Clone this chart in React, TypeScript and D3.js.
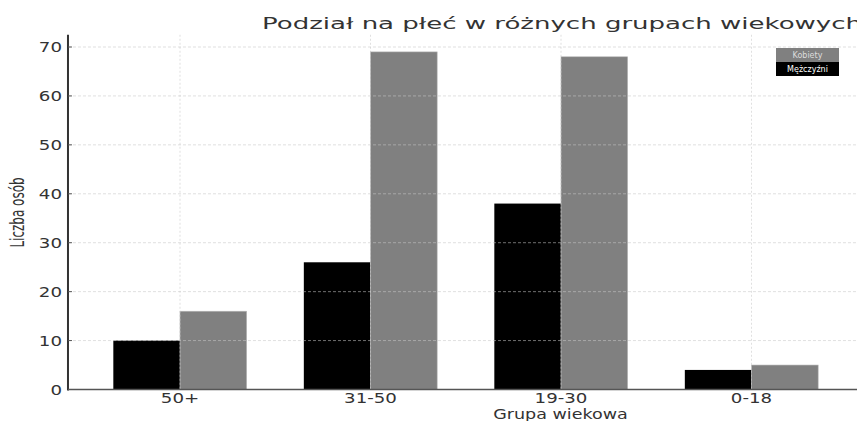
import React from 'react';
import * as d3 from 'd3';

const groups = ['50+', '31-50', '19-30', '0-18'];
const men = [10, 26, 38, 4];
const women = [16, 69, 68, 5];
const yTicks = [0, 10, 20, 30, 40, 50, 60, 70];

const W = 857;
const H = 421;
const FONT = 'DejaVu Sans, sans-serif';

const App = () => {
  // positions picked to sit on the reference's axes
  const x = d3.scaleLinear().domain([0, 3]).range([180, 751.5]);
  const y = d3.scaleLinear().domain([0, 70]).range([389.5, 47]);
  const left = x(-0.588);
  const top = y(72.5);
  const bw = 0.35;

  return (
    <svg width={W} height={H} style={{ position: 'absolute', left: 0, top: 0, background: '#fff' }}>
      {/* bars */}
      {groups.map((g, i) => (
        <g key={g}>
          <rect x={x(i - bw)} y={y(men[i])} width={x(i) - x(i - bw)} height={y(0) - y(men[i])} fill="#000" />
          <rect x={x(i)} y={y(women[i])} width={x(i + bw) - x(i)} height={y(0) - y(women[i])}
            fill="#808080" stroke="#b8b8b8" strokeWidth={0.6} />
        </g>
      ))}

      {/* grid on top */}
      {yTicks.slice(1).map(t => (
        <line key={t} x1={left} x2={W} y1={y(t)} y2={y(t)} stroke="#c8c8c8" strokeOpacity={0.7}
          strokeDasharray="3,2" strokeWidth={0.8} />
      ))}
      {groups.map((g, i) => (
        <line key={g} x1={x(i)} x2={x(i)} y1={top} y2={y(0)} stroke="#c8c8c8" strokeOpacity={0.7}
          strokeDasharray="2,2" strokeWidth={0.8} />
      ))}

      {/* spines */}
      <line x1={left} x2={left} y1={top} y2={y(0) + 1} stroke="#333" strokeWidth={2} />
      <line x1={left} x2={W} y1={y(0)} y2={y(0)} stroke="#555" strokeWidth={1.5} />

      {/* y ticks */}
      {yTicks.map(t => (
        <g key={t}>
          <line x1={left} x2={left + 4} y1={y(t)} y2={y(t)} stroke="#555" strokeWidth={1} />
          <text transform={`translate(${left - 6},${y(t) + 5}) scale(1.3,1)`} textAnchor="end"
            fontFamily={FONT} fontSize={14} fill="#333">{t}</text>
        </g>
      ))}

      {/* x ticks */}
      {groups.map((g, i) => (
        <text key={g} transform={`translate(${x(i)},${y(0) + 13}) scale(1.3,1)`} textAnchor="middle"
          fontFamily={FONT} fontSize={14} fill="#333">{g}</text>
      ))}

      {/* axis labels */}
      <text transform={`translate(560.5,419) scale(1.3,1)`} textAnchor="middle"
        fontFamily={FONT} fontSize={13.5} fill="#333">Grupa wiekowa</text>
      <text transform="translate(24,212.5) scale(1.55,1) rotate(-90)" textAnchor="middle"
        fontFamily={FONT} fontSize={12} fill="#333">Liczba osób</text>

      {/* title */}
      <text x={262} y={29} fontFamily={FONT} fontSize={16} fill="#333"
        textLength={600} lengthAdjust="spacingAndGlyphs">Podział na płeć w różnych grupach wiekowych</text>

      {/* legend */}
      <g>
        <rect x={776} y={48} width={63} height={14} fill="#808080" />
        <rect x={776} y={62} width={63} height={14} fill="#000" />
        <text x={807.5} y={58} textAnchor="middle" fontFamily={FONT} fontSize={8} fill="#ddd">Kobiety</text>
        <text x={807.5} y={72} textAnchor="middle" fontFamily={FONT} fontSize={8} fill="#fff">Mężczyźni</text>
      </g>
    </svg>
  );
};

export default App;
